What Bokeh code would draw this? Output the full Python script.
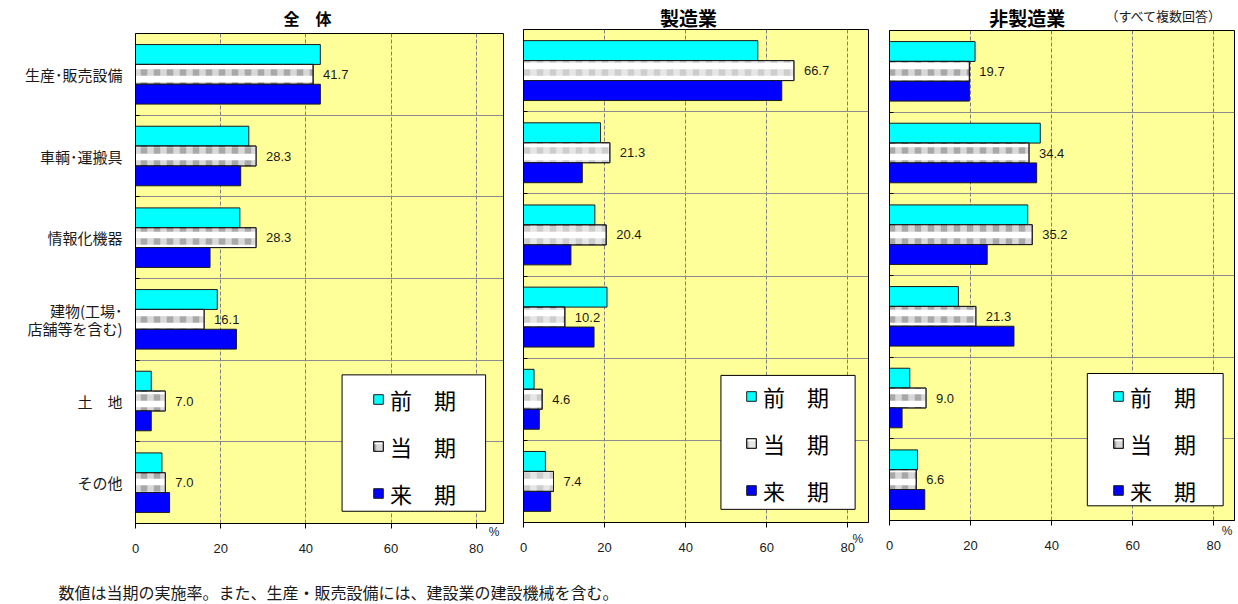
import numpy as np
from bokeh.plotting import figure
from bokeh.layouts import row, column
from bokeh.models import (ColumnDataSource, Range1d, FixedTicker, Legend, LegendItem,
                          BoxAnnotation, Label, LinearAxis)
from bokeh.transform import dodge
from bokeh.core.properties import value
from bokeh.embed import file_html
from bokeh.resources import INLINE

# ---- data -------------------------------------------------------------
categories = ["生産･販売設備", "車輌･運搬具", "情報化機器",
              "建物(工場･\n店舗等を含む)", "土　地", "その他"]
series_labels = ["前　期", "当　期", "来　期"]
x_ticks = [0, 20, 40, 60, 80]

# 全体
all_prev = [43.4, 26.6, 24.5, 19.2, 3.7, 6.2]
all_curr = [41.7, 28.3, 28.3, 16.1, 7.0, 7.0]
all_next = [43.4, 24.7, 17.5, 23.7, 3.7, 8.0]

# 製造業
mfg_prev = [57.8, 19.0, 17.6, 20.6, 2.6, 5.4]
mfg_curr = [66.7, 21.3, 20.4, 10.2, 4.6, 7.4]
mfg_next = [63.7, 14.5, 11.7, 17.4, 3.9, 6.7]

# 非製造業
non_prev = [21.1, 37.2, 34.1, 17.0, 5.0, 6.9]
non_curr = [19.7, 34.4, 35.2, 21.3, 9.0, 6.6]
non_next = [19.7, 36.3, 24.1, 30.7, 3.1, 8.7]

note_multi = "（すべて複数回答）"
footnote = "数値は当期の実施率。また、生産・販売設備には、建設業の建設機械を含む。"

# ---- styling ----------------------------------------------------------
JP = "Noto Sans CJK JP"
LATIN = "Liberation Sans"
BG = "#FFFF99"
BAR_H = 0.243
FOOT_H = 39
PANEL_H = 604 - FOOT_H


def text_axis(tick, text, size, standoff, bold=False, font=JP, color="black",
              line_height=1.2):
    """An axis without line or ticks that just carries one text."""
    return LinearAxis(ticker=FixedTicker(ticks=[tick]),
                      major_label_overrides={tick: text},
                      axis_line_color=None, major_tick_line_color=None,
                      minor_tick_line_color=None,
                      major_tick_in=0, major_tick_out=0,
                      major_label_standoff=standoff,
                      major_label_text_font=font,
                      major_label_text_font_style="bold" if bold else "normal",
                      major_label_text_font_size=size,
                      major_label_text_line_height=line_height,
                      major_label_text_color=color)


def build_panel(title, prev, curr, nxt, width, borders, x_end, show_categories,
                tones, box, legend_loc, pct):
    left, right, top, bottom = borders
    p = figure(width=width, height=PANEL_H, x_range=Range1d(0, x_end),
               y_range=Range1d(6, 0), output_backend="svg",
               toolbar_location=None, title=None,
               min_border_left=left, min_border_right=right,
               min_border_top=top, min_border_bottom=bottom,
               background_fill_color=BG, border_fill_color="white")
    p.outline_line_color = "black"
    p.outline_line_width = 1

    centers = np.arange(len(categories)) + 0.5
    src = ColumnDataSource(dict(
        y=centers, prev=prev, curr=curr, nxt=nxt,
        curr_text=["%.1f" % v for v in curr],
    ))

    # grid
    p.xgrid.ticker = FixedTicker(ticks=x_ticks[1:])
    p.xgrid.grid_line_color = "#7f7f7f"
    p.xgrid.grid_line_dash = "4 2"
    p.xgrid.grid_line_width = 1
    p.ygrid.ticker = FixedTicker(ticks=[1, 2, 3, 4, 5])
    p.ygrid.grid_line_color = "#8c8c8c"
    p.ygrid.grid_line_width = 1

    # value axis
    p.xaxis.ticker = FixedTicker(ticks=x_ticks)
    p.xaxis.major_tick_out = 5
    p.xaxis.major_tick_in = 0
    p.xaxis.axis_line_color = "black"
    p.xaxis.major_tick_line_color = "black"
    p.xaxis.major_label_standoff = 15
    p.xaxis.major_label_text_font = LATIN
    p.xaxis.major_label_text_font_size = "13px"
    p.xaxis.major_label_text_color = "#1a1a1a"

    # unit mark under the right end of the value axis
    pct_x, pct_standoff = pct
    p.add_layout(text_axis(pct_x, "%", "12px", pct_standoff, font=LATIN,
                           color="#1a1a1a"), "below")

    # panel title above the frame
    t_text, t_x, t_size, t_standoff = title
    p.add_layout(text_axis(t_x, t_text, t_size, t_standoff, bold=True,
                           line_height=0.8), "above")

    # category axis
    p.yaxis.ticker = FixedTicker(ticks=list(centers), minor_ticks=[1, 2, 3, 4, 5])
    p.yaxis.major_tick_in = 0
    p.yaxis.major_tick_out = 0
    p.yaxis.minor_tick_in = 4
    p.yaxis.minor_tick_out = 0
    p.yaxis.minor_tick_line_color = "black"
    p.yaxis.axis_line_color = "black"
    if show_categories:
        p.yaxis.major_label_overrides = {float(c): t for c, t in zip(centers, categories)}
        p.yaxis.major_label_text_font = JP
        p.yaxis.major_label_text_font_size = "15px"
        p.yaxis.major_label_text_line_height = 0.83
        p.yaxis.major_label_text_color = "#1a1a1a"
        p.yaxis.major_label_standoff = 13
    else:
        p.yaxis.major_label_overrides = {float(c): "" for c in centers}
        p.yaxis.major_label_standoff = 0

    # bars
    dark, light_alpha = tones
    r_prev = p.hbar(y=dodge("y", -BAR_H), right="prev", left=0, height=BAR_H,
                    source=src, fill_color="#00FFFF", line_color="#1a1a1a", line_width=1)
    r_curr = p.hbar(y="y", right="curr", left=0, height=BAR_H, source=src,
                    fill_color="white", line_color="#1a1a1a", line_width=1,
                    hatch_pattern="horizontal_line", hatch_color=dark,
                    hatch_scale=13, hatch_weight=6.5)
    # column stripes laid over the row stripes give the chequered look
    r_curr_cols = p.hbar(y="y", right="curr", left=0, height=BAR_H, source=src,
                         fill_alpha=0, line_color="#1a1a1a", line_width=1,
                         hatch_pattern="vertical_line", hatch_color="white",
                         hatch_alpha=light_alpha, hatch_scale=13, hatch_weight=6.5)
    r_next = p.hbar(y=dodge("y", BAR_H), right="nxt", left=0, height=BAR_H,
                    source=src, fill_color="#0000FF", line_color="#1a1a1a", line_width=1)

    p.text(x="curr", y="y", text="curr_text", source=src, x_offset=10,
           text_baseline="middle", text_align="left",
           text_font=value(LATIN), text_font_size="13px", text_color="#1a1a1a")

    # legend frame and entries
    bl, br, bt, bb = box
    p.add_layout(BoxAnnotation(left=bl, right=br, top=bt, bottom=bb,
                               fill_color="white", fill_alpha=1,
                               line_color="black", line_width=1, line_alpha=1))
    legend = Legend(items=[LegendItem(label=series_labels[0], renderers=[r_prev]),
                           LegendItem(label=series_labels[1],
                                      renderers=[r_curr, r_curr_cols]),
                           LegendItem(label=series_labels[2], renderers=[r_next])],
                    location=legend_loc, padding=0, margin=0, spacing=15,
                    glyph_width=12, glyph_height=12, label_standoff=6,
                    label_height=26, label_text_font=JP,
                    label_text_font_size="22px", label_text_color="black",
                    background_fill_alpha=0, border_line_alpha=0)
    p.add_layout(legend)
    return p


p1 = build_panel(("全　体", 40.4, "16px", 4), all_prev, all_curr, all_next,
                 width=513, borders=(135, 10, 33, 42), x_end=86.4,
                 show_categories=True, tones=("#a8a8a8", 0.55),
                 box=(48.5, 82.2, 4.18, 5.85), legend_loc=(237, 14),
                 pct=(84.2, -31))

p2 = build_panel(("製造業", 40.7, "19px", -1), mfg_prev, mfg_curr, mfg_next,
                 width=365, borders=(10, 10, 29, 43), x_end=85.1,
                 show_categories=False, tones=("#cdcdcd", 0.5),
                 box=(48.7, 81.8, 4.21, 5.84), legend_loc=(222, 16),
                 pct=(82.5, -23))

p3 = build_panel(("非製造業", 34.0, "19px", 0), non_prev, non_curr, non_next,
                 width=360, borders=(11, 4, 27, 45), x_end=85.1,
                 show_categories=False, tones=("#a8a8a8", 0.55),
                 box=(48.8, 82.3, 4.2, 5.82), legend_loc=(223, 14),
                 pct=(83.3, -29))
p3.add_layout(text_axis(67.7, note_multi, "13px", -24, color="#1a1a1a",
                        line_height=0.8), "above")

# footnote strip
foot = figure(width=1238, height=FOOT_H, x_range=Range1d(0, 1238),
              y_range=Range1d(0, FOOT_H), x_axis_type=None, y_axis_type=None,
              output_backend="svg", toolbar_location=None, min_border=0,
              border_fill_color="white", background_fill_color="white")
foot.grid.visible = False
foot.outline_line_color = None
foot.add_layout(Label(x=58, y=13, text=footnote, text_align="left",
                      text_baseline="middle", text_font=JP, text_font_size="16px",
                      text_color="#1a1a1a"))

# each panel sits in its own column so its frame keeps its own margins
panels = row(column(p1), column(p2), column(p3), spacing=0)
layout = column(panels, foot, spacing=0)
open("out.html", "w").write(file_html(layout, INLINE))
